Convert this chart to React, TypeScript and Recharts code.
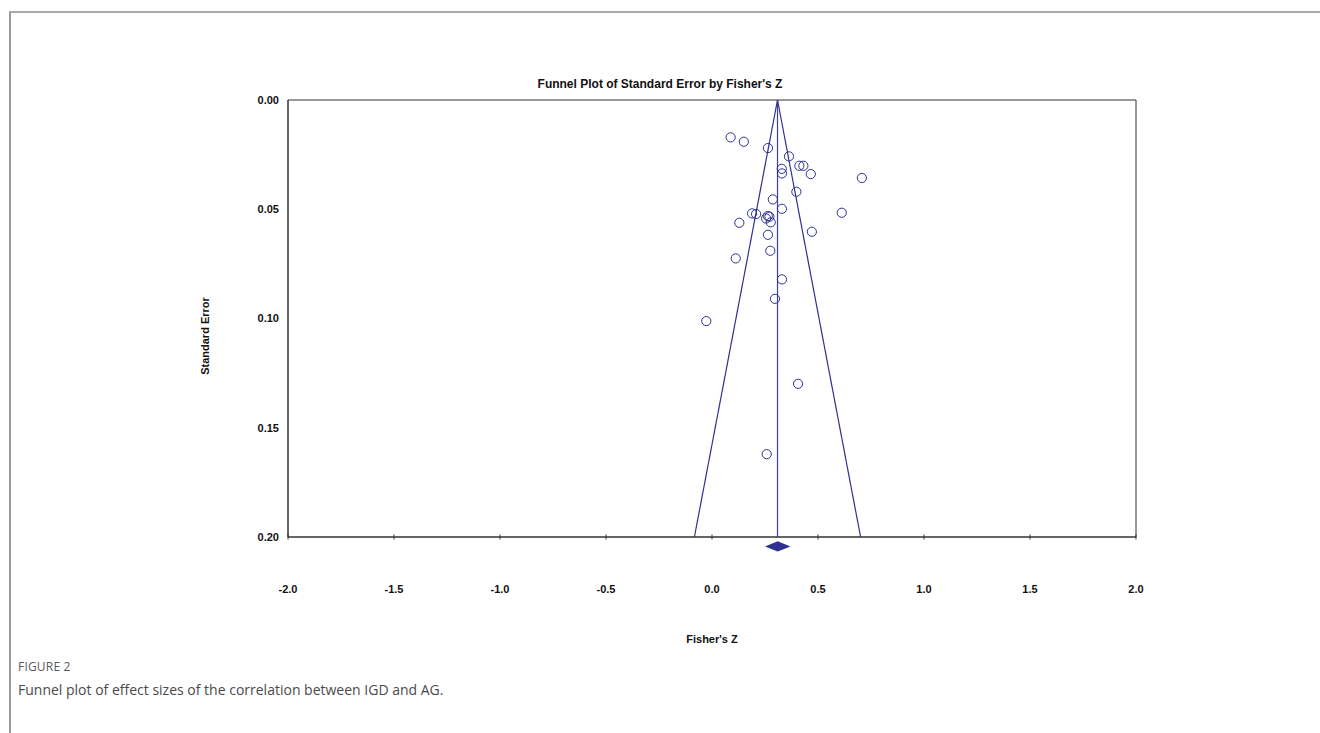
import React from 'react';
import { ScatterChart, Scatter, XAxis, YAxis, ReferenceLine, ReferenceArea } from 'recharts';

// study effect sizes (Fisher's Z) and their standard errors
const studyZ = [
  0.088, 0.15, 0.264, 0.363, 0.329, 0.33, 0.412, 0.431, 0.466, 0.707,
  0.398, 0.287, 0.33, 0.189, 0.208, 0.612, 0.263, 0.255, 0.271, 0.277,
  0.129, 0.471, 0.264, 0.275, 0.112, 0.33, 0.297, -0.027, 0.406, 0.258,
];
const studySE = [
  0.0171, 0.0191, 0.022, 0.0258, 0.0315, 0.0336, 0.0301, 0.0301, 0.0339, 0.0357,
  0.042, 0.0455, 0.0498, 0.0519, 0.0522, 0.0516, 0.0531, 0.0542, 0.0534, 0.056,
  0.0562, 0.0603, 0.0617, 0.069, 0.0725, 0.0821, 0.091, 0.1012, 0.1299, 0.1621,
];

const pooledZ = 0.309;
const funnelBase = [-0.083, 0.701]; // funnel edges at SE = 0.20
const pooledCI = [0.25, 0.37];
const diamondSE = [0.202, 0.2066];

const xTicks = [-2.0, -1.5, -1.0, -0.5, 0.0, 0.5, 1.0, 1.5, 2.0];
const yTicks = [0.0, 0.05, 0.1, 0.15, 0.2];

const data = studyZ.map((z, i) => ({ z, se: studySE[i] }));

const NAVY = '#2e3192';
const FONT = '"Liberation Sans", Arial, sans-serif';

const XTick = ({ x, y, payload }: any) => (
  <g>
    <line x1={x} x2={x} y1={y - 2.5} y2={y + 2.5} stroke="#333" />
    <text x={x} y={y + 52} dy="0.355em" textAnchor="middle" fontSize={11} fontWeight="bold" fill="#111" fontFamily={FONT}>
      {payload.value.toFixed(1)}
    </text>
  </g>
);

const Diamond = ({ x, y, width, height }: any) => (
  <polygon
    points={`${x},${y + height / 2} ${x + width / 2},${y} ${x + width},${y + height / 2} ${x + width / 2},${y + height}`}
    fill={NAVY}
  />
);

export default function App() {
  return (
    <div style={{ position: 'absolute', left: 0, top: 0, width: 1320, height: 733, background: '#fff', fontFamily: FONT }}>
      <div style={{ position: 'absolute', left: 9, top: 11, right: 0, bottom: 0, borderTop: '2px solid #aaa', borderLeft: '2px solid #999' }} />

      <div style={{ position: 'absolute', left: 0, width: 1320, top: 77, textAlign: 'center', fontSize: 12, fontWeight: 'bold', color: '#111' }}>
        Funnel Plot of Standard Error by Fisher's Z
      </div>

      <ScatterChart width={1320} height={733} margin={{ top: 100, right: 184, bottom: 136, left: 208 }} style={{ position: 'absolute', left: 0, top: 0 }}>
        <XAxis
          type="number"
          dataKey="z"
          domain={[-2, 2]}
          ticks={xTicks}
          allowDataOverflow
          height={60}
          tickLine={false}
          tickSize={0}
          tickMargin={0}
          axisLine={{ stroke: '#333' }}
          tick={<XTick />}
          interval={0}
        />
        <YAxis
          type="number"
          dataKey="se"
          domain={[0, 0.2]}
          ticks={yTicks}
          reversed
          allowDataOverflow
          width={80}
          tickLine={false}
          tickSize={0}
          tickMargin={9}
          axisLine={{ stroke: '#333' }}
          tickFormatter={(v: number) => v.toFixed(2)}
          tick={{ fontSize: 11, fontWeight: 'bold', fill: '#111', fontFamily: FONT }}
          interval={0}
        />
        <ReferenceArea x1={-2} x2={2} y1={0} y2={0.2} fill="none" stroke="#333" strokeWidth={1} />
        <ReferenceLine segment={[{ x: pooledZ, y: 0 }, { x: pooledZ, y: 0.2 }]} stroke="#3a3fa5" strokeWidth={1.2} />
        <ReferenceLine segment={[{ x: pooledZ, y: 0 }, { x: funnelBase[0], y: 0.2 }]} stroke={NAVY} strokeWidth={1.2} />
        <ReferenceLine segment={[{ x: pooledZ, y: 0 }, { x: funnelBase[1], y: 0.2 }]} stroke={NAVY} strokeWidth={1.2} />
        <Scatter
          data={data}
          isAnimationActive={false}
          shape={(p: any) => <circle cx={p.cx} cy={p.cy} r={4.6} fill="none" stroke={NAVY} strokeWidth={1} />}
        />
        <ReferenceArea
          x1={pooledCI[0]}
          x2={pooledCI[1]}
          y1={diamondSE[0]}
          y2={diamondSE[1]}
          ifOverflow="visible"
          shape={<Diamond />}
        />
      </ScatterChart>

      <div style={{ position: 'absolute', left: 205, top: 336, transform: 'translate(-50%, -50%) rotate(-90deg)', fontSize: 11, fontWeight: 'bold', color: '#111', whiteSpace: 'nowrap' }}>
        Standard Error
      </div>
      <div style={{ position: 'absolute', left: 712, top: 639, transform: 'translate(-50%, -50%)', fontSize: 11, fontWeight: 'bold', color: '#111', whiteSpace: 'nowrap' }}>
        Fisher's Z
      </div>

      <div style={{ position: 'absolute', left: 18, top: 658, fontFamily: '"Open Sans", sans-serif', fontSize: 12, color: '#5a5a5a', letterSpacing: 0.2 }}>
        FIGURE 2
      </div>
      <div style={{ position: 'absolute', left: 18, top: 680, fontFamily: '"Open Sans", sans-serif', fontSize: 14, color: '#4a4a4a' }}>
        Funnel plot of effect sizes of the correlation between IGD and AG.
      </div>
    </div>
  );
}
